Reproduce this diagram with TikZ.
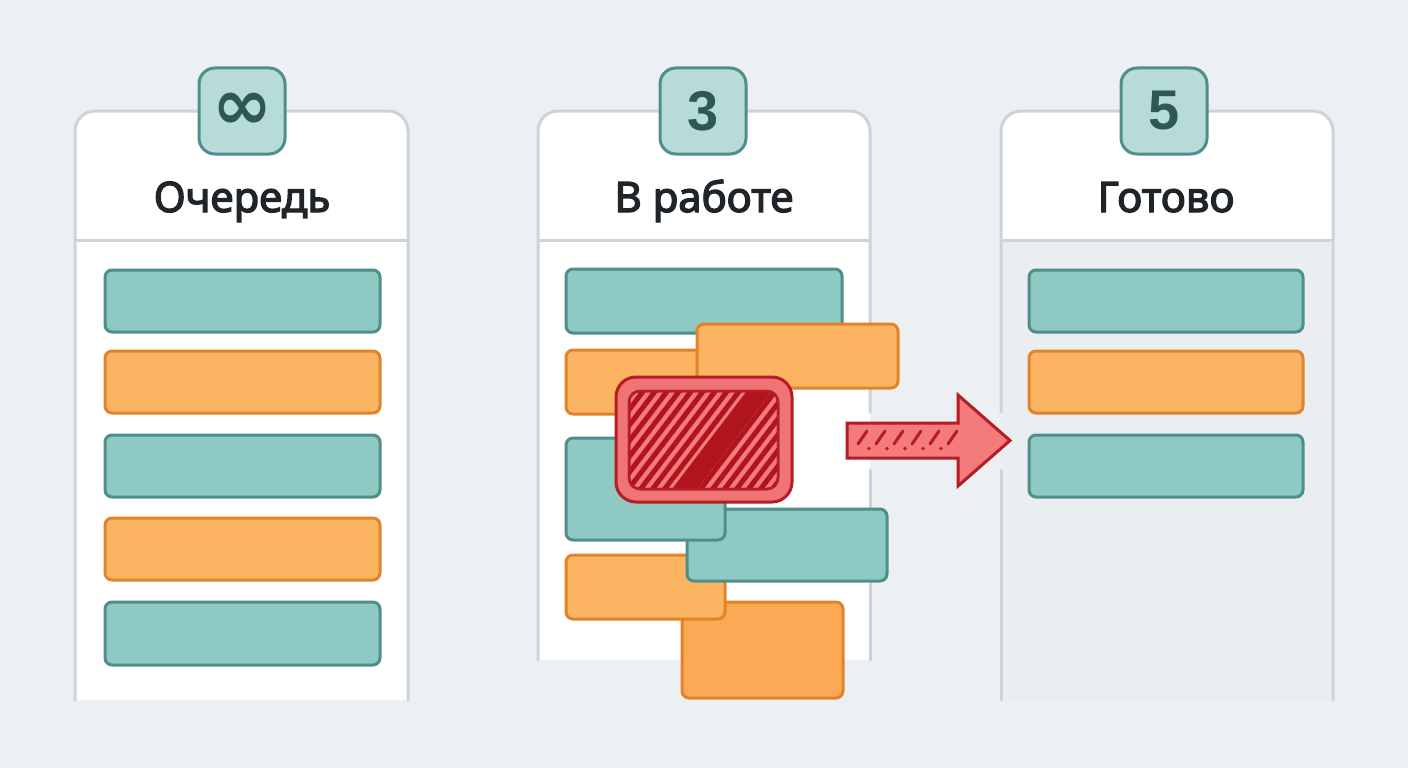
\documentclass[tikz,border=0pt]{standalone}
\usepackage{fontspec}
\setmainfont{Noto Sans}
\newfontfamily\titlefont[FakeBold=3]{Noto Sans}
\newfontfamily\numfont{Liberation Sans}
\newfontfamily\symfont{DejaVu Sans}
\definecolor{bg}{HTML}{EDF0F2}
\definecolor{colline}{HTML}{CDD3D6}
\definecolor{colbody}{HTML}{EAEEF0}
\definecolor{tealfill}{HTML}{8FC9C3}
\definecolor{tealdraw}{HTML}{4F8E8A}
\definecolor{orfill}{HTML}{FBB462}
\definecolor{ordraw}{HTML}{E0832A}
\definecolor{orfilldeep}{HTML}{FBA955}
\definecolor{badgefill}{HTML}{B7DCD8}
\definecolor{badgetext}{HTML}{2E5855}
\definecolor{redfill}{HTML}{F07476}
\definecolor{reddraw}{HTML}{B31D23}
\definecolor{redinner}{HTML}{F47A7B}
\definecolor{redstripe}{HTML}{B0141C}
\definecolor{titletext}{HTML}{1E2428}
\newcommand\crd[6]{\node[#1,minimum width={(#5-#3)*1pt},minimum height={(#6-#4)*1pt}] (#2) at ({(#3+#5)/2},{(#4+#6)/2}) {};}
\begin{document}
\begin{tikzpicture}[x=1pt,y=-1pt,
  card/.style={draw, line width=3pt, rounded corners=7pt, inner sep=0pt, outer sep=0pt},
  tealcard/.style={card, fill=tealfill, draw=tealdraw},
  orcard/.style={card, fill=orfill, draw=ordraw},
  colborder/.style={draw=colline, line width=3pt, line cap=round, rounded corners=20pt},
  divider/.style={draw=colline, line width=3pt},
  badge/.style={draw=tealdraw, fill=badgefill, line width=3pt, rounded corners=16pt, minimum width=86pt, minimum height=86pt, inner sep=0pt, text=badgetext},
  coltitle/.style={anchor=base, text=titletext, font=\titlefont\fontsize{42}{50}\selectfont, inner sep=0pt}
]
\useasboundingbox (0,0) rectangle (1408,768);
\fill[bg] (0,0) rectangle (1408,768);

% ---------- column 1 ----------
\fill[white, rounded corners=20pt] (75,700) -- (75,111) -- (408,111) -- (408,700);
\draw[colborder] (75,700) -- (75,111) -- (408,111) -- (408,700);
\draw[divider] (75,240) -- (408,240);
\node[badge] (b1) at (242,111) {\symfont\bfseries\fontsize{72}{72}\selectfont ∞};
\node[coltitle] (t1) at (242,212) {Очередь};
\crd{tealcard}{q1}{105}{270}{380}{332}
\crd{orcard}{q2}{105}{351}{380}{413}
\crd{tealcard}{q3}{105}{435}{380}{497}
\crd{orcard}{q4}{105}{518}{380}{580}
\crd{tealcard}{q5}{105}{602}{380}{665}

% ---------- column 3 ----------
\fill[white, rounded corners=20pt] (1001,240) -- (1001,111) -- (1333,111) -- (1333,240);
\fill[colbody] (1001,240) rectangle (1333,700);
\draw[colborder] (1001,412) -- (1001,111) -- (1333,111) -- (1333,700);
\draw[colborder] (1001,470) -- (1001,700);
\draw[divider] (1001,240) -- (1333,240);
\node[badge] (b3) at (1164,111) {\numfont\bfseries\fontsize{56}{56}\selectfont 5};
\node[coltitle] (t3) at (1166,212) {Готово};
\crd{tealcard}{d1}{1029}{270}{1303}{332}
\crd{orcard}{d2}{1029}{351}{1303}{413}
\crd{tealcard}{d3}{1029}{435}{1303}{497}

% ---------- column 2 ----------
\fill[white, rounded corners=20pt] (538,660) -- (538,111) -- (870,111) -- (870,660);
\draw[colborder] (538,660) -- (538,111) -- (870,111) -- (870,412);
\draw[colborder] (870,470) -- (870,660);
\draw[divider] (538,240) -- (870,240);
\node[badge] (b2) at (703,111) {\numfont\bfseries\fontsize{56}{56}\selectfont 3};
\node[coltitle] (t2) at (704,212) {В работе};
\crd{tealcard}{w1}{566}{269}{842}{333}
\crd{orcard}{w2}{566}{350}{760}{414}
\crd{orcard}{w3}{697}{324}{898}{388}
\crd{card, fill=orfilldeep, draw=ordraw}{w8}{682}{602}{843}{698}
\crd{orcard}{w7}{566}{555}{725}{619}
\crd{tealcard}{w6}{687}{509}{887}{581}
\crd{tealcard}{w5}{566}{438}{725}{540}

% ---------- blocked card ----------
\node[draw=reddraw, fill=redfill, line width=3pt, rounded corners=20pt, minimum width=176pt, minimum height=125pt, inner sep=0pt] (blk) at (704,439.5) {};
\node[draw=reddraw, fill=redinner, line width=2.5pt, rounded corners=11pt, minimum width=149pt, minimum height=98pt, inner sep=0pt] (blkin) at (703.5,440) {};
\begin{scope}
  \clip[rounded corners=11pt] (629,391) rectangle (778,489);
  \foreach \s in {540,552,...,800} {
    \draw[redstripe, line width=5pt] (\s,495) -- ({\s+84},385);
  }
  \draw[redstripe, line width=20pt] (680,495) -- (764,385);
\end{scope}
\node[draw=reddraw, line width=2.5pt, rounded corners=11pt, minimum width=149pt, minimum height=98pt, inner sep=0pt] (blkrim) at (703.5,440) {};

% ---------- arrow ----------
\coordinate (atail) at (847,440.5);
\coordinate (atip) at (1010,440.5);
\draw[fill=redinner, draw=reddraw, line width=3pt, line join=miter]
  (847,423) -- (958,423) -- (958,395) -- (atip) -- (958,486) -- (958,458) -- (847,458) -- cycle;
\foreach \k in {0,...,5} {
  \draw[reddraw, line width=3pt, line cap=round] ({858+18*\k},444) -- ({867+18*\k},431);
}
\foreach \k in {0,...,4} {
  \fill[reddraw] ({869+18*\k},448.5) circle[radius=1.8];
}
\end{tikzpicture}
\end{document}
